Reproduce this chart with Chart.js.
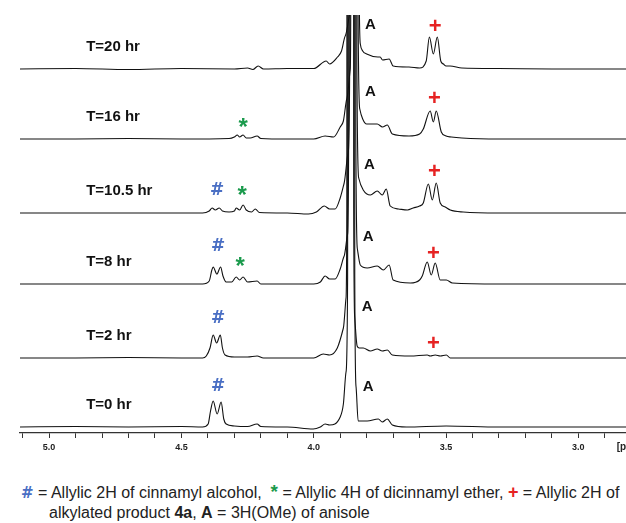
<!DOCTYPE html>
<html>
<head>
<meta charset="utf-8">
<script src="https://cdn.jsdelivr.net/npm/chart.js@4.4.1/dist/chart.umd.min.js"></script>
<style>
  body { margin: 0; background: #fff; width: 626px; height: 523px; overflow: hidden; position: relative;
         font-family: "Liberation Sans", Arial, sans-serif; }
  #nmr { position: absolute; left: 0; top: 0; }
  .caption { position: absolute; font-size: 16px; line-height: 20px; color: #222; white-space: nowrap; }
  .hash { color: #4a6fc4; font-weight: bold; font-family: "DejaVu Sans", sans-serif; font-size: 15px; }
  .star { color: #1a9a4c; font-weight: bold; font-size: 19px; }
  .plus { color: #e62222; font-weight: bold; font-size: 18px; }
</style>
</head>
<body>
<canvas id="nmr" width="626" height="460"></canvas>
<div class="caption" style="left:21px; top:482px;"><span class="hash">#</span> = Allylic 2H of cinnamyl alcohol,&nbsp; <span class="star">*</span> = Allylic 4H of dicinnamyl ether, <span class="plus">+</span> = Allylic 2H of</div>
<div class="caption" style="left:49px; top:503px;">alkylated product <b>4a</b>, <b>A</b> = 3H(OMe) of anisole</div>
<script>
// spectra, bottom to top; each point is [ppm, height above its own baseline]
const spectrumNames = ['T=0 hr', 'T=2 hr', 'T=8 hr', 'T=10.5 hr', 'T=16 hr', 'T=20 hr'];
const baselineOffsets = [6, 75, 149, 220, 294, 364];
const majorTicks = [5.0, 4.5, 4.0, 3.5, 3.0];

const t0 = [[5.11,0],[4.90,0.5],[4.70,0],[4.50,0.5],[4.42,0],[4.399,3],[4.390,16],[4.380,26],[4.365,13],[4.350,25],[4.340,8],[4.331,3],[4.30,1],[4.25,0.5],[4.214,3],[4.20,0.5],[4.10,0],[4.002,-2],[3.975,0],[3.957,3],[3.94,2],[3.900,10],[3.888,23],[3.878,55],[3.872,150],[3.870,1500],[3.847,1500],[3.845,150],[3.840,40],[3.832,6],[3.798,6],[3.756,8],[3.741,5],[3.722,8],[3.703,2],[3.65,0],[3.50,1],[3.30,0],[2.82,0]];
const t2 = [[5.11,0],[4.90,0],[4.70,0.5],[4.50,0],[4.42,0],[4.406,2],[4.392,10],[4.380,23],[4.367,15],[4.353,23],[4.345,10],[4.335,3],[4.30,1],[4.25,1],[4.214,2],[4.19,0],[4.05,0],[4.00,0],[3.964,4],[3.94,3],[3.911,10],[3.888,30],[3.878,60],[3.875,150],[3.873,1500],[3.851,1500],[3.849,150],[3.845,40],[3.836,12],[3.828,10],[3.813,10],[3.786,7],[3.760,9],[3.741,7],[3.722,8],[3.703,3],[3.635,2],[3.571,3],[3.56,2],[3.541,3],[3.522,2],[3.499,3],[3.484,0],[3.30,0],[2.82,0]];
const t8 = [[5.11,0],[4.90,0],[4.70,0],[4.50,0],[4.42,0],[4.395,3],[4.385,14],[4.380,17],[4.366,10],[4.352,17],[4.343,8],[4.331,2],[4.31,2],[4.293,7],[4.28,4],[4.267,7],[4.25,2],[4.214,3],[4.20,0],[4.10,0],[4.00,0],[3.975,2],[3.957,8],[3.94,5],[3.919,5],[3.90,15],[3.885,28],[3.872,50],[3.868,150],[3.866,1500],[3.843,1500],[3.841,150],[3.835,35],[3.824,19],[3.798,16],[3.760,18],[3.737,14],[3.715,19],[3.700,4],[3.635,1],[3.60,4],[3.590,8],[3.571,22],[3.556,9],[3.541,21],[3.522,4],[3.499,4],[3.476,1],[3.30,0],[2.82,0]];
const t10_5 = [[5.11,0],[4.90,0],[4.70,0],[4.50,0],[4.42,0],[4.395,2],[4.384,5],[4.372,3],[4.357,5],[4.345,2],[4.32,1],[4.30,2],[4.293,5],[4.28,3],[4.267,8],[4.255,3],[4.235,1],[4.221,4],[4.205,0.5],[4.10,0],[4.02,-1],[3.99,1],[3.96,7],[3.94,4],[3.919,4],[3.90,15],[3.885,30],[3.870,60],[3.864,150],[3.862,1500],[3.839,1500],[3.837,150],[3.830,35],[3.813,23],[3.786,18],[3.760,22],[3.741,18],[3.726,24],[3.711,7],[3.68,4],[3.646,3],[3.624,5],[3.60,7],[3.586,10],[3.567,29],[3.552,13],[3.537,30],[3.522,10],[3.503,6],[3.484,3],[3.435,1],[3.30,0],[2.82,0]];
const t16 = [[5.11,0],[4.90,0],[4.70,0.5],[4.50,0],[4.32,0.5],[4.30,2],[4.289,4],[4.28,2],[4.267,4],[4.255,1],[4.24,1],[4.214,3],[4.20,0.5],[4.10,0],[4.00,0],[3.957,3],[3.925,2],[3.90,12],[3.888,18],[3.875,40],[3.862,70],[3.860,150],[3.858,1500],[3.835,1500],[3.833,150],[3.826,30],[3.815,20],[3.80,15],[3.76,15],[3.74,12],[3.722,14],[3.703,5],[3.64,3],[3.60,5],[3.586,10],[3.56,28],[3.548,17],[3.537,28],[3.518,7],[3.50,3],[3.48,2],[3.44,1],[3.30,0],[2.82,0]];
const t20 = [[5.11,0],[4.90,0.5],[4.70,-0.5],[4.50,0.5],[4.30,0],[4.25,1],[4.23,-0.5],[4.21,3],[4.19,0],[4.10,0.5],[4.00,0.5],[3.953,8],[3.94,5],[3.91,12],[3.895,18],[3.881,33],[3.860,60],[3.856,150],[3.854,1500],[3.832,1500],[3.830,150],[3.824,25],[3.815,18],[3.80,15],[3.758,12],[3.749,12],[3.74,9],[3.715,10],[3.70,3],[3.64,2],[3.60,1],[3.575,8],[3.563,32],[3.548,15],[3.533,32],[3.52,8],[3.51,5],[3.50,3],[3.485,3],[3.44,1],[3.30,0.5],[3.10,0],[2.82,0]];
const spectra = [t0, t2, t8, t10_5, t16, t20];

// peak markers: which spectrum, symbol, ppm, lift above that baseline
const markers = [
  [5, 'A', 3.786, 44], [5, '+', 3.541, 42],
  [4, 'A', 3.786, 47], [4, '+', 3.544, 40], [4, '*', 4.267, 15],
  [3, 'A', 3.790, 48], [3, '+', 3.544, 41], [3, '#', 4.365, 22], [3, '*', 4.270, 21],
  [2, 'A', 3.794, 47], [2, '+', 3.548, 30], [2, '#', 4.361, 37], [2, '*', 4.278, 21],
  [1, 'A', 3.798, 51], [1, '+', 3.548, 14], [1, '#', 4.361, 39],
  [0, 'A', 3.794, 40], [0, '#', 4.361, 40]
];

const symbolStyle = {
  'A': { color: '#111', font: 'bold 15px "Liberation Sans", Arial, sans-serif' },
  '+': { color: '#e62222', font: 'bold 22px "Liberation Sans", Arial, sans-serif' },
  '#': { color: '#4a6fc4', font: 'bold 17px "DejaVu Sans", sans-serif' },
  '*': { color: '#1a9a4c', font: 'bold 24px "Liberation Sans", Arial, sans-serif' }
};

const labelsPlugin = {
  id: 'stackLabels',
  afterDatasetsDraw(chart) {
    const { ctx, scales: { x, y } } = chart;
    ctx.save();
    ctx.textBaseline = 'middle';
    ctx.fillStyle = '#111';
    ctx.font = 'bold 15px "Liberation Sans", Arial, sans-serif';
    ctx.textAlign = 'left';
    spectrumNames.forEach((name, i) => {
      ctx.fillText(name, x.getPixelForValue(4.86), y.getPixelForValue(baselineOffsets[i] + 22));
    });
    ctx.textAlign = 'center';
    markers.forEach(([i, sym, ppm, lift]) => {
      const st = symbolStyle[sym];
      ctx.font = st.font;
      ctx.fillStyle = st.color;
      const dy = sym === '*' ? 4 : 0;
      ctx.fillText(sym, x.getPixelForValue(ppm), y.getPixelForValue(baselineOffsets[i] + lift) + dy);
    });
    ctx.font = 'bold 10px "Liberation Sans", Arial, sans-serif';
    ctx.fillStyle = '#222';
    ctx.textAlign = 'left';
    ctx.textBaseline = 'top';
    ctx.fillText('[ppm]', x.getPixelForValue(2.855), chart.chartArea.bottom + 9);
    ctx.restore();
  }
};

new Chart(document.getElementById('nmr'), {
  type: 'line',
  data: {
    datasets: spectra.map((pts, i) => ({
      label: spectrumNames[i],
      data: pts.map(([ppm, h]) => ({ x: ppm, y: baselineOffsets[i] + h })),
      borderColor: '#111',
      borderWidth: 1.1,
      pointRadius: 0,
      fill: false,
      cubicInterpolationMode: 'monotone'
    }))
  },
  options: {
    responsive: false,
    animation: false,
    devicePixelRatio: 1,
    layout: { padding: { top: 15, left: 20, right: 0, bottom: 0 } },
    plugins: { legend: { display: false }, tooltip: { enabled: false } },
    scales: {
      x: {
        type: 'linear',
        reverse: true,
        min: 2.82,
        max: 5.11,
        afterFit: (s) => { s.height = 27; },
        border: { display: true, color: '#333', width: 1.3 },
        grid: { drawOnChartArea: false, drawTicks: true, tickLength: 5, color: '#333' },
        ticks: {
          stepSize: 0.1,
          includeBounds: false,
          autoSkip: false,
          maxRotation: 0,
          padding: 4,
          color: '#222',
          font: { family: '"Liberation Sans", Arial, sans-serif', size: 9, weight: 'bold' },
          callback: (v) => {
            const m = majorTicks.find(t => Math.abs(t - v) < 1e-6);
            return m === undefined ? '' : m.toFixed(1);
          }
        }
      },
      y: { display: false, min: 0, max: 418 }
    }
  },
  plugins: [labelsPlugin]
});
</script>
</body>
</html>
